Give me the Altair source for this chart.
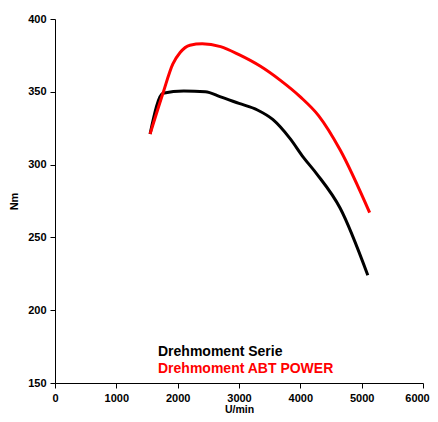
import altair as alt
import pandas as pd

rpm_serie = [1550, 1760, 2100, 2450, 2700, 3000, 3300, 3550, 3830, 4050, 4270, 4650, 5100]
nm_serie = [321, 349, 350.5, 350, 346.5, 342, 337.5, 331, 318, 305, 293.5, 270, 224]

rpm_abt = [1550, 1760, 1920, 2040, 2200, 2400, 2700, 3000, 3350, 3670, 4000, 4300, 4650, 5130]
nm_abt = [321, 349, 369, 377, 382, 383, 381, 375.5, 367.5, 358, 346.5, 333.5, 310, 267]

series_names = ["Drehmoment Serie", "Drehmoment ABT POWER"]
series_colors = ["#000000", "#ff0000"]

rows = []
for x, y in zip(rpm_serie, nm_serie):
    rows.append({"rpm": x, "nm": y, "series": series_names[0]})
for x, y in zip(rpm_abt, nm_abt):
    rows.append({"rpm": x, "nm": y, "series": series_names[1]})
df = pd.DataFrame(rows)

legend_df = pd.DataFrame({"series": series_names, "order": [0, 1]})

font = "Liberation Sans"

xscale = alt.Scale(domain=[0, 6000], nice=False)
yscale = alt.Scale(domain=[150, 400], nice=False, zero=False)
cscale = alt.Scale(domain=series_names, range=series_colors)

axis_style = dict(grid=False, tickSize=5, domainColor="black", tickColor="black",
                  labelFontWeight="bold", titleFontWeight="bold",
                  labelFontSize=11, labelFont=font, titleFont=font,
                  labelColor="black", titleColor="black", labelFlush=False, format="d")

lines = alt.Chart(df).mark_line(strokeWidth=3, interpolate="monotone").encode(
    x=alt.X("rpm:Q", scale=xscale, title="U/min",
            axis=alt.Axis(values=[0, 1000, 2000, 3000, 4000, 5000, 6000],
                          labelOffset={"condition": {"test": "datum.value == 6000", "value": -6}, "value": 0},
                          labelPadding=4, titlePadding=1, titleFontSize=10.5, **axis_style)),
    y=alt.Y("nm:Q", scale=yscale, title="Nm",
            axis=alt.Axis(values=[150, 200, 250, 300, 350, 400],
                          labelPadding=4, titlePadding=8, titleFontSize=11, **axis_style)),
    color=alt.Color("series:N", scale=cscale, legend=None),
    detail="series:N",
)

legend = alt.Chart(legend_df).mark_text(
    align="left", baseline="alphabetic", font=font, fontSize=14, fontWeight="bold"
).encode(
    x=alt.value(103),
    y=alt.Y("order:Q", scale=alt.Scale(domain=[0, 1], range=[337, 354]), axis=None),
    text="series:N",
    color=alt.Color("series:N", scale=cscale, legend=None),
)

chart = alt.layer(lines, legend).resolve_scale(y="independent").properties(
    width=368, height=364,
    autosize=alt.AutoSizeParams(type="none"),
    padding={"left": 47, "top": 11, "right": 7, "bottom": 31},
).configure_view(stroke=None)

chart.save("out.html", embed_options={"renderer": "svg", "actions": False})
